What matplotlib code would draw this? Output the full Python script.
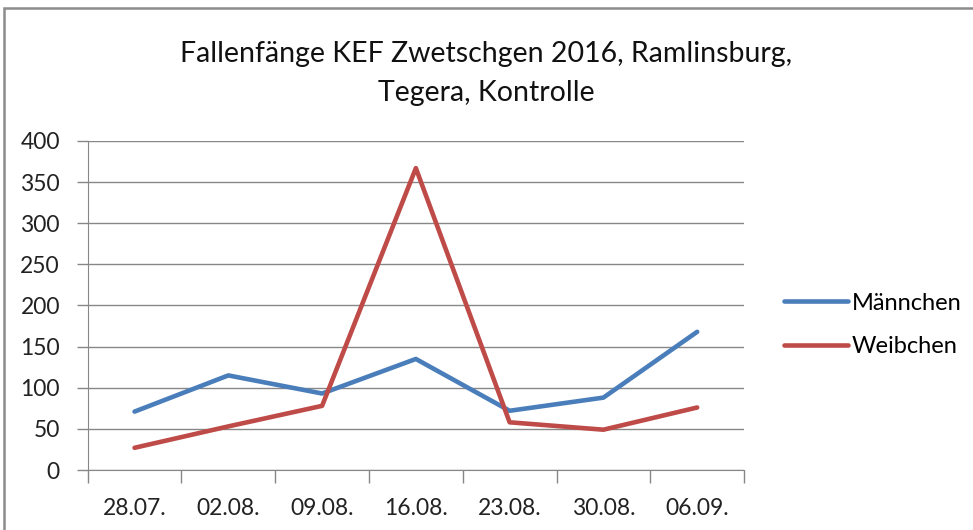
import matplotlib.pyplot as plt
from matplotlib.patches import Rectangle
import numpy as np

# Daten
daten = ['28.07.', '02.08.', '09.08.', '16.08.', '23.08.', '30.08.', '06.09.']
maennchen = [71, 115, 93, 135, 72, 88, 168]
weibchen = [27, 53, 78, 367, 58, 49, 76]

plt.rcParams['font.family'] = ['Lato', 'DejaVu Sans']

fig = plt.figure(figsize=(9.73, 5.30), dpi=100)
ax = fig.add_axes([0.0901, 0.1132, 0.6746, 0.6208])

# Rahmen um das Diagramm
fig.patches.append(Rectangle((0.004, -0.05), 1.1, 0.034 + 1.0, transform=fig.transFigure,
                             fill=False, edgecolor='#8c8c8c', linewidth=1.8))

x = np.arange(len(daten))
ax.plot(x, maennchen, color='#4A7EBB', linewidth=3.3, label='Männchen', solid_capstyle='round')
ax.plot(x, weibchen, color='#BE4B48', linewidth=3.3, label='Weibchen', solid_capstyle='round')

ax.set_xlim(-0.5, len(daten) - 0.5)
ax.set_ylim(0, 400)
ax.set_yticks(range(0, 401, 50))
ax.set_xticks(x)
ax.set_xticklabels(daten)
ax.set_xticks(np.arange(-0.5, len(daten)), minor=True)
ax.tick_params(axis='x', which='major', length=0, pad=20, labelsize=16.5, colors='#222222')
ax.tick_params(axis='x', which='minor', length=9, width=1, color='#878787')
ax.tick_params(axis='y', length=8, width=1, color='#878787', labelsize=16.5, labelcolor='#222222', pad=12)

ax.grid(axis='y', color='#878787', linewidth=1)
ax.set_axisbelow(True)
for s in ['top', 'right']:
    ax.spines[s].set_visible(False)
ax.spines['left'].set_color('#878787')
ax.spines['bottom'].set_color('#878787')

fig.text(0.5, 0.898, 'Fallenfänge KEF Zwetschgen 2016, Ramlinsburg,', ha='center', va='center',
         fontsize=20.5, color='#111111')
fig.text(0.5, 0.825, 'Tegera, Kontrolle', ha='center', va='center', fontsize=20.5, color='#111111')

ax.legend(loc='center left', bbox_to_anchor=(0.806, 0.387), bbox_transform=fig.transFigure,
          frameon=False, fontsize=17, handlelength=2.7, handletextpad=0.15, labelspacing=0.95,
          borderaxespad=0, borderpad=0)

fig.savefig('out.png', dpi=100)
